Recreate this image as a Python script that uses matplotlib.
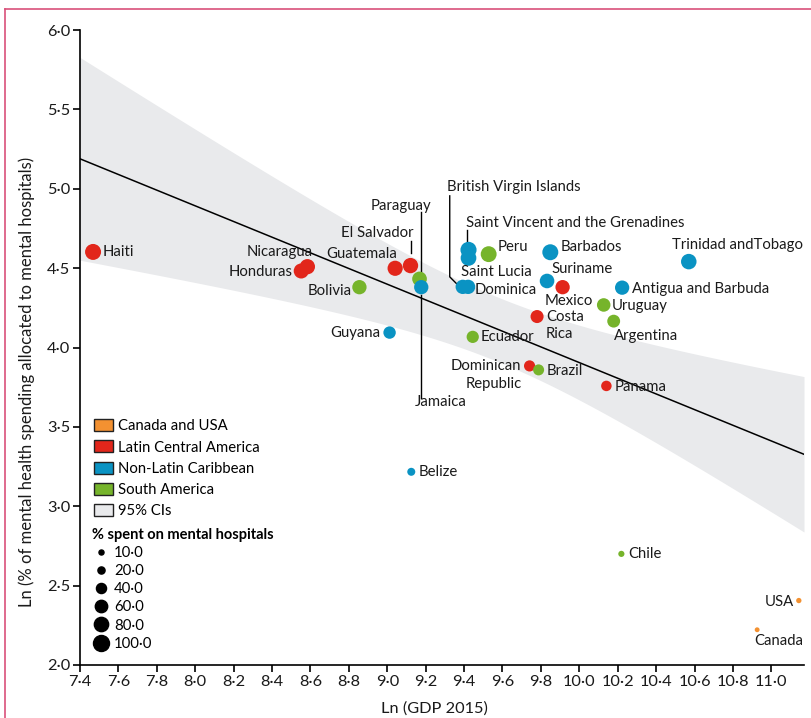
import numpy as np
import matplotlib.pyplot as plt
from matplotlib.patches import Patch
from matplotlib.lines import Line2D
from matplotlib.ticker import FuncFormatter

plt.rcParams['font.family'] = ['Lato', 'DejaVu Sans']

# Countries, region, Ln(GDP 2015), Ln(% spent on mental hospitals)
countries = ['Haiti', 'Honduras', 'Nicaragua', 'Guatemala', 'El Salvador', 'Paraguay', 'Jamaica',
             'Bolivia', 'Guyana', 'Ecuador', 'Saint Vincent and the Grenadines', 'Saint Lucia',
             'British Virgin Islands', 'Dominica', 'Peru', 'Barbados', 'Suriname', 'Mexico',
             'Costa\nRica', 'Antigua and Barbuda', 'Uruguay', 'Argentina', 'Trinidad andTobago',
             'Dominican\nRepublic', 'Brazil', 'Panama', 'Belize', 'Chile', 'USA', 'Canada']
regions = ['lca', 'lca', 'lca', 'lca', 'lca', 'sa', 'nlc',
           'sa', 'nlc', 'sa', 'nlc', 'nlc',
           'nlc', 'nlc', 'sa', 'nlc', 'nlc', 'lca',
           'lca', 'nlc', 'sa', 'sa', 'nlc',
           'lca', 'sa', 'lca', 'nlc', 'sa', 'cu', 'cu']
ln_gdp = [7.468, 8.552, 8.584, 9.041, 9.121, 9.168, 9.177,
          8.855, 9.012, 9.445, 9.423, 9.423,
          9.393, 9.421, 9.528, 9.849, 9.832, 9.913,
          9.780, 10.223, 10.127, 10.179, 10.570,
          9.741, 9.788, 10.141, 9.125, 10.219, 11.143, 10.926]
ln_pct = [4.602, 4.482, 4.509, 4.499, 4.516, 4.432, 4.380,
          4.380, 4.094, 4.067, 4.615, 4.564,
          4.382, 4.382, 4.588, 4.600, 4.419, 4.380,
          4.195, 4.377, 4.268, 4.166, 4.541,
          3.884, 3.859, 3.758, 3.217, 2.700, 2.406, 2.222]

# label offsets in pixels (dx, dy), horizontal alignment
label_pos = {
    'Haiti': (10, 0, 'left'), 'Honduras': (-9, -1, 'right'), 'Nicaragua': (5, 15, 'right'),
    'Guatemala': (2, 14, 'right'), 'El Salvador': (3, 33, 'right'), 'Paraguay': (12, 73, 'right'),
    'Jamaica': (19, -115, 'center'), 'Bolivia': (-8, -4, 'right'), 'Guyana': (-9, 0, 'right'),
    'Ecuador': (8, 0, 'left'), 'Saint Vincent and the Grenadines': (-3, 27, 'left'),
    'Saint Lucia': (-8, -14, 'left'), 'British Virgin Islands': (-16, 100, 'left'),
    'Dominica': (7, -3, 'left'), 'Peru': (9, 7, 'left'), 'Barbados': (10, 5, 'left'),
    'Suriname': (4, 12, 'left'), 'Mexico': (-18, -14, 'left'), 'Costa\nRica': (9, -9, 'left'),
    'Antigua and Barbuda': (10, -1, 'left'), 'Uruguay': (8, -1, 'left'),
    'Argentina': (0, -15, 'left'), 'Trinidad andTobago': (-17, 17, 'left'),
    'Dominican\nRepublic': (-8, -9, 'right'), 'Brazil': (8, -1, 'left'), 'Panama': (8, -1, 'left'),
    'Belize': (7, 0, 'left'), 'Chile': (7, 0, 'left'), 'USA': (-5, -1, 'right'),
    'Canada': (-3, -11, 'left'),
}

# leader lines, pixel offsets from the point
leaders = {
    'El Salvador': [(0, 25), (0, 13)],
    'Paraguay': [(1, 67), (1, 6)],
    'Jamaica': [(0, -8), (0, -111)],
    'Saint Vincent and the Grenadines': [(-1.5, 20), (-1.5, 8)],
    'British Virgin Islands': [(-13, 91), (-13, 10), (-6, 3)],
}

region_names = ['Canada and USA', 'Latin Central America', 'Non-Latin Caribbean', 'South America']
region_keys = ['cu', 'lca', 'nlc', 'sa']
colors = {'cu': '#f39131', 'lca': '#e2261b', 'nlc': '#0a93c3', 'sa': '#76b42b'}
size_levels = [10, 20, 40, 60, 80, 100]

x = np.array(ln_gdp)
y = np.array(ln_pct)
pct = np.exp(y)
size_k = 1.33

fig = plt.figure(figsize=(8.11, 7.18), dpi=100)
ax = fig.add_axes([80 / 811, 1 - 665 / 718, 724 / 811, 635 / 718])
ax.set_xlim(7.4, 11.17)
ax.set_ylim(2.0, 6.0)

# regression line + 95% CI
b, a = np.polyfit(x, y, 1)
n = len(x)
xs = np.linspace(7.4, 11.17, 200)
resid = y - (a + b * x)
s = np.sqrt(np.sum(resid ** 2) / (n - 2))
sxx = np.sum((x - x.mean()) ** 2)
hw = 2.048 * s * np.sqrt(1 / n + (xs - x.mean()) ** 2 / sxx)
ax.fill_between(xs, a + b * xs - hw, a + b * xs + hw, color='#e9eaec', lw=0, zorder=0)
ax.plot(xs, a + b * xs, color='black', lw=1.1, zorder=1)

cols = [colors[r] for r in regions]
ax.scatter(x, y, s=size_k * pct, c=cols, lw=0, zorder=3)

for name, xi, yi in zip(countries, x, y):
    dx, dy, ha = label_pos[name]
    ax.annotate(name, (xi, yi), xytext=(dx, dy), textcoords='offset pixels', ha=ha, va='center',
                fontsize=10.7, multialignment=ha if ha != 'center' else 'center', linespacing=1.3,
                color='#1a1a1a', zorder=4)
    if name in leaders:
        base = ax.transData.transform((xi, yi))
        pts = np.array([ax.transData.inverted().transform(base + np.array(p)) for p in leaders[name]])
        ax.plot(pts[:, 0], pts[:, 1], color='black', lw=1.0, zorder=2)

# axes styling
for side in ['top', 'right']:
    ax.spines[side].set_visible(False)
ax.spines['left'].set_linewidth(1.2)
ax.spines['bottom'].set_linewidth(1.2)
ax.set_xticks(np.arange(7.4, 11.01, 0.2))
ax.set_yticks(np.arange(2.0, 6.01, 0.5))
fmt = FuncFormatter(lambda v, p: f'{v:.1f}'.replace('.', '\u00b7'))
ax.xaxis.set_major_formatter(fmt)
ax.yaxis.set_major_formatter(fmt)
ax.tick_params(direction='out', length=5, width=1.2, labelsize=11.8, pad=2, labelcolor='#1a1a1a')
ax.set_xlabel('Ln (GDP 2015)', fontsize=11.8, color='#1a1a1a')
ax.xaxis.set_label_coords(0.49, -0.057)
ax.set_ylabel('Ln (% of mental health spending allocated to mental hospitals)', fontsize=12,
              color='#1a1a1a')
ax.yaxis.set_label_coords(-0.062, 0.446)

# legends
handles = [Patch(facecolor=colors[k], edgecolor='#222222', lw=1) for k in region_keys]
handles.append(Patch(facecolor='#e9eaec', edgecolor='#222222', lw=1))
leg1 = ax.legend(handles, region_names + ['95% CIs'], loc='upper left', bbox_to_anchor=(0.019, 0.387),
                 frameon=False, fontsize=10.7, handlelength=1.3, handleheight=0.85, handletextpad=0.3,
                 labelspacing=0.48, borderpad=0, borderaxespad=0)
ax.add_artist(leg1)
size_handles = [Line2D([], [], marker='o', ls='', color='black', markersize=np.sqrt(size_k * v))
                for v in size_levels]
leg2 = ax.legend(size_handles, [f'{v:.1f}'.replace('.', '\u00b7') for v in size_levels],
                 loc='upper left', bbox_to_anchor=(0.017, 0.216), frameon=False, fontsize=10.7,
                 title='% spent on mental hospitals', title_fontproperties={'weight': 'bold', 'size': 10.5},
                 alignment='left', handlelength=1.2, handletextpad=0.25, labelspacing=0.28,
                 borderpad=0, borderaxespad=0)

# pink page frame
fig.add_artist(Line2D([5 / 811, 5 / 811], [0, 1 - 8.5 / 718], color='#d9507a', lw=1.2))
fig.add_artist(Line2D([5 / 811, 1], [1 - 8.5 / 718, 1 - 8.5 / 718], color='#d9507a', lw=1.2))

fig.savefig('out.png', dpi=100)
